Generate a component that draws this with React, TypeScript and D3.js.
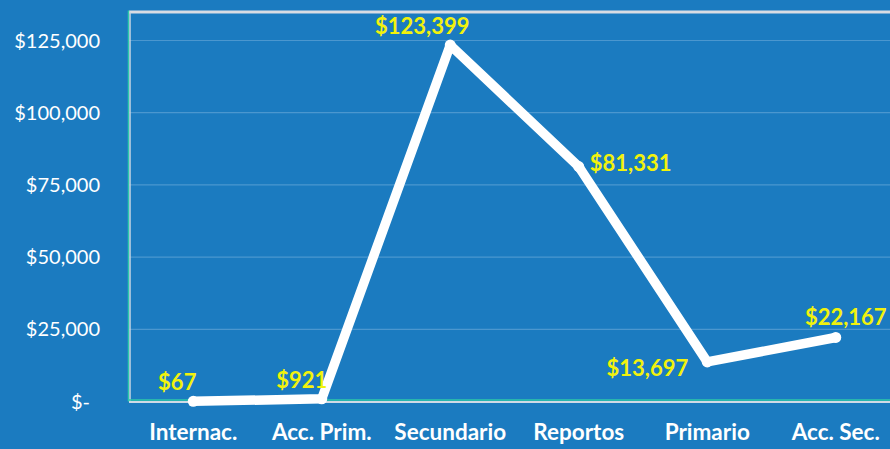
import React from "react";
import * as d3 from "d3";

const categories = ["Internac.", "Acc. Prim.", "Secundario", "Reportos", "Primario", "Acc. Sec."];
const values = [67, 921, 123399, 81331, 13697, 22167];
const yTicks = [0, 25000, 50000, 75000, 100000, 125000];

const W = 890;
const H = 449;
const plotLeft = 129;
const plotRight = 900;
const plotTop = 12;
const plotBottom = 401.5;

// label placement relative to each point: [dx, dy, anchor]
const labelPlacement: [number, number, string][] = [
  [-16, -11, "middle"],
  [-20, -11, "middle"],
  [-28, -11, "middle"],
  [11, 4, "start"],
  [-19, 14, "end"],
  [10, -12, "middle"],
];

const fmtMoney = (v: number) => (v === 0 ? "$-" : "$" + d3.format(",")(v));

export default function App() {
  const x = d3.scaleBand<string>().domain(categories).range([plotLeft, plotRight]);
  const y = d3.scaleLinear().domain([0, 125000]).range([plotBottom, 40.5]);
  const cx = (c: string) => (x(c) as number) + x.bandwidth() / 2;
  const line = d3
    .line<number>()
    .x((_, i) => cx(categories[i]))
    .y((d) => y(d));
  const font = "Lato, 'Open Sans', sans-serif";

  return (
    <svg width={W} height={H} style={{ position: "absolute", left: 0, top: 0, display: "block" }}>
      <rect x={0} y={0} width={W} height={H} fill="#1B7BC0" />
      {yTicks.slice(1).map((t) => (
        <line key={t} x1={plotLeft} x2={W} y1={y(t)} y2={y(t)} stroke="#4B97CF" strokeWidth={1.2} />
      ))}
      {/* plot borders */}
      <line x1={plotLeft} x2={W} y1={plotTop} y2={plotTop} stroke="#D9DCE3" strokeWidth={3} />
      <line x1={plotLeft - 0.5} x2={plotLeft - 0.5} y1={plotTop - 1.5} y2={plotBottom} stroke="#2EC9A8" strokeWidth={1.5} />
      <line x1={plotLeft + 1} x2={plotLeft + 1} y1={plotTop} y2={plotBottom} stroke="#C9D6E3" strokeWidth={1.5} />
      <line x1={plotLeft} x2={W} y1={plotBottom - 1.5} y2={plotBottom - 1.5} stroke="#2EC9A8" strokeWidth={1.5} />
      <line x1={plotLeft} x2={W} y1={plotBottom + 0.5} y2={plotBottom + 0.5} stroke="#D0DAE6" strokeWidth={1.8} />
      {/* y tick labels */}
      {yTicks.map((t) => (
        <text
          key={t}
          x={t === 0 ? 90 : 100}
          y={y(t) + 7}
          textAnchor="end"
          fill="#FFFFFF"
          fontFamily={font}
          fontSize={20}
        >
          {fmtMoney(t)}
        </text>
      ))}
      {/* x category labels */}
      {categories.map((c) => (
        <text
          key={c}
          x={cx(c)}
          y={440}
          textAnchor="middle"
          fill="#FFFFFF"
          fontFamily={font}
          fontWeight="bold"
          fontSize={22.5}
        >
          {c}
        </text>
      ))}
      {/* line */}
      <path
        d={line(values) || ""}
        fill="none"
        stroke="#FFFFFF"
        strokeWidth={9.5}
        strokeLinejoin="round"
        strokeLinecap="round"
      />
      {values.map((v, i) => (
        <circle key={i} cx={cx(categories[i])} cy={y(v)} r={5.5} fill="#FFFFFF" />
      ))}
      {/* data labels */}
      {values.map((v, i) => {
        const [dx, dy, anchor] = labelPlacement[i];
        return (
          <text
            key={i}
            x={cx(categories[i]) + dx}
            y={y(v) + dy}
            textAnchor={anchor as any}
            fill="#F2F20C"
            fontFamily={font}
            fontWeight="bold"
            fontSize={22}
          >
            {fmtMoney(v)}
          </text>
        );
      })}
    </svg>
  );
}
